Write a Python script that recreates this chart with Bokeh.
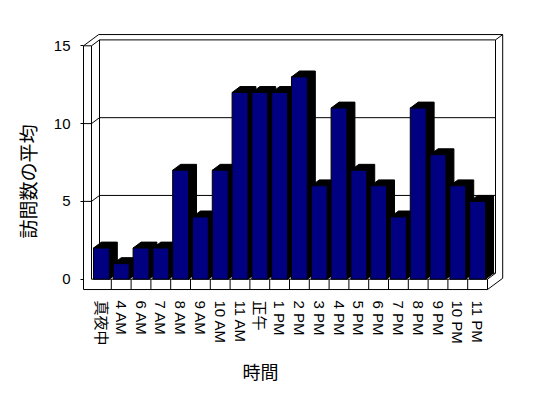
import math
from bokeh.plotting import figure
from bokeh.models import FixedTicker, Range1d, Title
from bokeh.embed import file_html
from bokeh.resources import INLINE

# ---- data ----
categories = ["真夜中", "4 AM", "6 AM", "7 AM", "8 AM", "9 AM", "10 AM", "11 AM",
              "正午", "1 PM", "2 PM", "3 PM", "4 PM", "5 PM", "6 PM", "7 PM",
              "8 PM", "9 PM", "10 PM", "11 PM"]
visits = [2, 1, 2, 2, 7, 4, 7, 12, 12, 12, 13, 6, 11, 7, 6, 4, 11, 8, 6, 5]
y_ticks = [0, 5, 10, 15]
y_title = "訪問数の平均"
x_title = "時間"

# ---- geometry of the pseudo-3D box (in data units) ----
N = len(categories)
YMAX = y_ticks[-1]
X0, X1 = -0.5, N - 0.5
SX = 19.8            # px per category on the front plane
SY = 236 / 15        # px per value unit on the front plane
DX, DY = 8 / SX, 6 / SY          # depth of the box
TW, FT = 8 / SX, 10.5 / SY       # left wall / floor thickness
OUT = 1.9                        # outer depth of the walls
BAR_W = 0.8

FONT_LAT = "Liberation Sans"
FONT_MIX = "Liberation Sans, Noto Sans CJK JP"
FONT_JP = "Noto Sans CJK JP"

p = figure(width=540, height=390, output_backend="svg", toolbar_location=None,
           x_range=Range1d(X0 - 11 / SX, X0 + 414 / SX),
           y_range=Range1d(-14.5 / SY, 251.5 / SY),
           min_border_left=80, min_border_right=35,
           min_border_top=30, min_border_bottom=94)
p.outline_line_color = None
p.grid.visible = False
p.background_fill_color = "white"
p.border_fill_color = "white"

# ---- walls and floor ----
xs, ys = [], []
def seg(a, b):
    xs.append([a[0], b[0]]); ys.append([a[1], b[1]])

seg((X0 - TW, -FT), (X0 - TW, YMAX))
seg((X0, 0), (X0, YMAX))
seg((X0 - TW, YMAX), (X0, YMAX))
seg((X0 - TW, YMAX), (X0 - TW + OUT * DX, YMAX + OUT * DY))
seg((X0 - TW + OUT * DX, YMAX + OUT * DY), (X1 + OUT * DX, YMAX + OUT * DY))
seg((X0, YMAX), (X0 + DX, YMAX + DY))
seg((X0 + DX, YMAX + DY), (X1 + DX, YMAX + DY))
seg((X0 + DX, DY), (X0 + DX, YMAX + DY))
seg((X1 + DX, DY), (X1 + DX, YMAX + DY))
seg((X1 + DX, YMAX + DY), (X1 + OUT * DX, YMAX + OUT * DY))
seg((X1 + OUT * DX, YMAX + OUT * DY), (X1 + OUT * DX, -FT + OUT * DY))
seg((X0 - TW, -FT), (X1, -FT))
seg((X0, 0), (X1, 0))
seg((X1, -FT), (X1, 0))
seg((X1, -FT), (X1 + OUT * DX, -FT + OUT * DY))
seg((X1, 0), (X1 + DX, DY))
seg((X0 + DX, DY), (X1 + DX, DY))
for i in range(1, N):
    seg((X0 + i, -FT), (X0 + i, 0))
for g in y_ticks[1:-1]:
    seg((X0 - TW, g), (X0, g))
    seg((X0, g), (X0 + DX, g + DY))
    seg((X0 + DX, g + DY), (X1 + DX, g + DY))

p.multi_line(xs, ys, line_color="black", line_width=1)

# ---- bars ----
lefts = [i - BAR_W / 2 for i in range(N)]
rights = [i + BAR_W / 2 for i in range(N)]
side_xs = [[l, l + DX, r + DX, r + DX, r, r] for l, r in zip(lefts, rights)]
side_ys = [[v, v + DY, v + DY, DY, 0, v] for v in visits]
p.patches(side_xs, side_ys, fill_color="black", line_color="black", line_width=1)
p.quad(left=lefts, right=rights, bottom=0, top=visits,
       fill_color="#000080", line_color="black", line_width=1)

# ---- axes ----
p.yaxis.ticker = FixedTicker(ticks=y_ticks)
p.yaxis.axis_line_color = None
p.yaxis.major_tick_in = 3
p.yaxis.major_tick_out = 0
p.yaxis.minor_tick_line_color = None
p.yaxis.major_tick_line_color = "black"
p.yaxis.major_label_standoff = 10
p.yaxis.major_label_text_font = FONT_LAT
p.yaxis.major_label_text_font_size = "15px"
p.yaxis.major_label_text_color = "black"

p.xaxis.ticker = FixedTicker(ticks=list(range(N)))
p.xaxis.major_label_overrides = {i: c for i, c in enumerate(categories)}
p.xaxis.major_label_orientation = "vertical"
p.xaxis.axis_line_color = None
p.xaxis.major_tick_line_color = None
p.xaxis.minor_tick_line_color = None
p.xaxis.major_tick_in = 0
p.xaxis.major_tick_out = 0
p.xaxis.major_label_standoff = 7
p.xaxis.major_label_text_font = FONT_MIX
p.xaxis.major_label_text_font_size = "15px"
p.xaxis.major_label_text_color = "black"

# ---- axis titles ----
p.add_layout(Title(text=y_title, align="left", offset=55, standoff=19,
                   text_font=FONT_JP, text_font_size="19px", text_font_style="normal",
                   text_color="black"), "left")
p.add_layout(Title(text=x_title, align="left", offset=162, standoff=14,
                   text_font=FONT_JP, text_font_size="18px", text_font_style="normal",
                   text_color="black"), "below")

open("out.html", "w").write(file_html(p, INLINE))
